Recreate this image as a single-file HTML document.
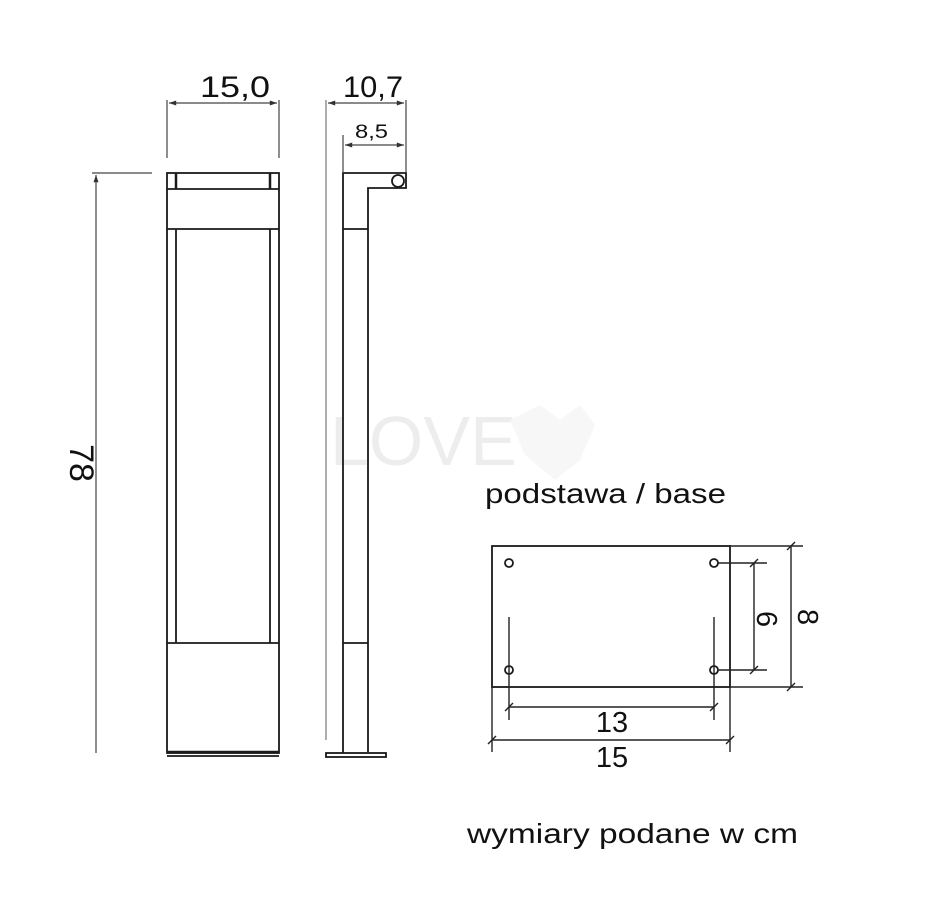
<!DOCTYPE html>
<html><head><meta charset="utf-8"><style>
html,body{margin:0;padding:0;background:#fff;}
svg{display:block;}
text{font-family:"Liberation Sans",sans-serif;fill:#111;}
</style></head><body>
<svg width="926" height="913" viewBox="0 0 926 913" xmlns="http://www.w3.org/2000/svg">
<defs>
<marker id="a" viewBox="0 0 10 10" refX="10" refY="5" markerWidth="8" markerHeight="6" orient="auto-start-reverse"><path d="M0,1.5 L10,5 L0,8.5 z" fill="#333"/></marker>
</defs>
<g opacity="0.07">
<text x="330" y="465" font-size="70" fill="#888">LOVE</text>
<path d="M510,420 L540,405 L560,420 L580,405 L595,425 L580,460 L555,480 L525,455 Z" fill="#999"/>
</g>
<g fill="none" stroke="#1a1a1a" stroke-width="1.8">
<rect x="167" y="173" width="112" height="580"/>
<line x1="167" y1="189" x2="279" y2="189"/>
<line x1="176" y1="173" x2="176" y2="189" stroke-width="2.5"/>
<line x1="270" y1="173" x2="270" y2="189" stroke-width="2.5"/>
<line x1="167" y1="229" x2="279" y2="229"/>
<line x1="176" y1="229" x2="176" y2="643"/>
<line x1="270" y1="229" x2="270" y2="643"/>
<line x1="167" y1="643" x2="279" y2="643"/>
<line x1="167" y1="752" x2="279" y2="752" stroke-width="2.5"/>
<line x1="167" y1="756" x2="279" y2="756"/>
<path d="M343,753 L343,173 L406,173 L406,188 L368,188 L368,752"/>
<line x1="343" y1="229" x2="368" y2="229"/>
<line x1="343" y1="643" x2="368" y2="643"/>
<rect x="326" y="753" width="60" height="4"/>
<circle cx="398" cy="181" r="6"/>
<rect x="492" y="546" width="238" height="141"/>
<circle cx="509" cy="563" r="4"/>
<circle cx="714" cy="563" r="4"/>
<circle cx="509" cy="670" r="4"/>
<circle cx="714" cy="670" r="4"/>
</g>
<g fill="none" stroke="#444" stroke-width="1.2">
<line x1="167" y1="100" x2="167" y2="158"/>
<line x1="279" y1="100" x2="279" y2="158"/>
<line x1="169" y1="103" x2="277" y2="103" marker-start="url(#a)" marker-end="url(#a)"/>
<line x1="92" y1="173" x2="152" y2="173"/>
<line x1="96" y1="175" x2="96" y2="753" marker-start="url(#a)"/>
<line x1="326" y1="100" x2="326" y2="740" stroke="#777"/>
<line x1="406" y1="100" x2="406" y2="173"/>
<line x1="343" y1="135" x2="343" y2="173"/>
<line x1="328" y1="103" x2="404" y2="103" marker-start="url(#a)" marker-end="url(#a)"/>
<line x1="345" y1="145" x2="404" y2="145" marker-start="url(#a)" marker-end="url(#a)"/>
</g>
<g fill="none" stroke="#222" stroke-width="1.4">
<line x1="509" y1="617" x2="509" y2="720"/>
<line x1="714" y1="617" x2="714" y2="720"/>
<line x1="509" y1="707" x2="714" y2="707"/>
<line x1="505" y1="711" x2="513" y2="703"/><line x1="710" y1="711" x2="718" y2="703"/>
<line x1="492" y1="687" x2="492" y2="752"/>
<line x1="730" y1="687" x2="730" y2="752"/>
<line x1="492" y1="740" x2="730" y2="740"/>
<line x1="488" y1="744" x2="496" y2="736"/><line x1="726" y1="744" x2="734" y2="736"/>
<line x1="718" y1="563" x2="767" y2="563"/>
<line x1="718" y1="670" x2="767" y2="670"/>
<line x1="754" y1="563" x2="754" y2="670"/>
<line x1="750" y1="567" x2="758" y2="559"/><line x1="750" y1="674" x2="758" y2="666"/>
<line x1="730" y1="546" x2="803" y2="546"/>
<line x1="730" y1="687" x2="803" y2="687"/>
<line x1="791" y1="546" x2="791" y2="687"/>
<line x1="787" y1="550" x2="795" y2="542"/><line x1="787" y1="691" x2="795" y2="683"/>
</g>
<text x="200" y="97" font-size="30" textLength="70" lengthAdjust="spacingAndGlyphs">15,0</text>
<text x="343" y="97" font-size="30" textLength="60" lengthAdjust="spacingAndGlyphs">10,7</text>
<text x="355" y="138" font-size="19" textLength="33" lengthAdjust="spacingAndGlyphs">8,5</text>
<text x="0" y="0" font-size="34" text-anchor="middle" transform="translate(70,463) rotate(90)">78</text>
<text x="612" y="732" font-size="29" text-anchor="middle">13</text>
<text x="612" y="767" font-size="29" text-anchor="middle">15</text>
<text x="0" y="0" font-size="29" text-anchor="middle" transform="translate(757,619) rotate(90)">6</text>
<text x="0" y="0" font-size="29" text-anchor="middle" transform="translate(798,617) rotate(90)">8</text>
<text x="485" y="503" font-size="28" textLength="241" lengthAdjust="spacingAndGlyphs">podstawa / base</text>
<text x="467" y="843" font-size="28" textLength="331" lengthAdjust="spacingAndGlyphs">wymiary podane w cm</text>
</svg>
</body></html>
